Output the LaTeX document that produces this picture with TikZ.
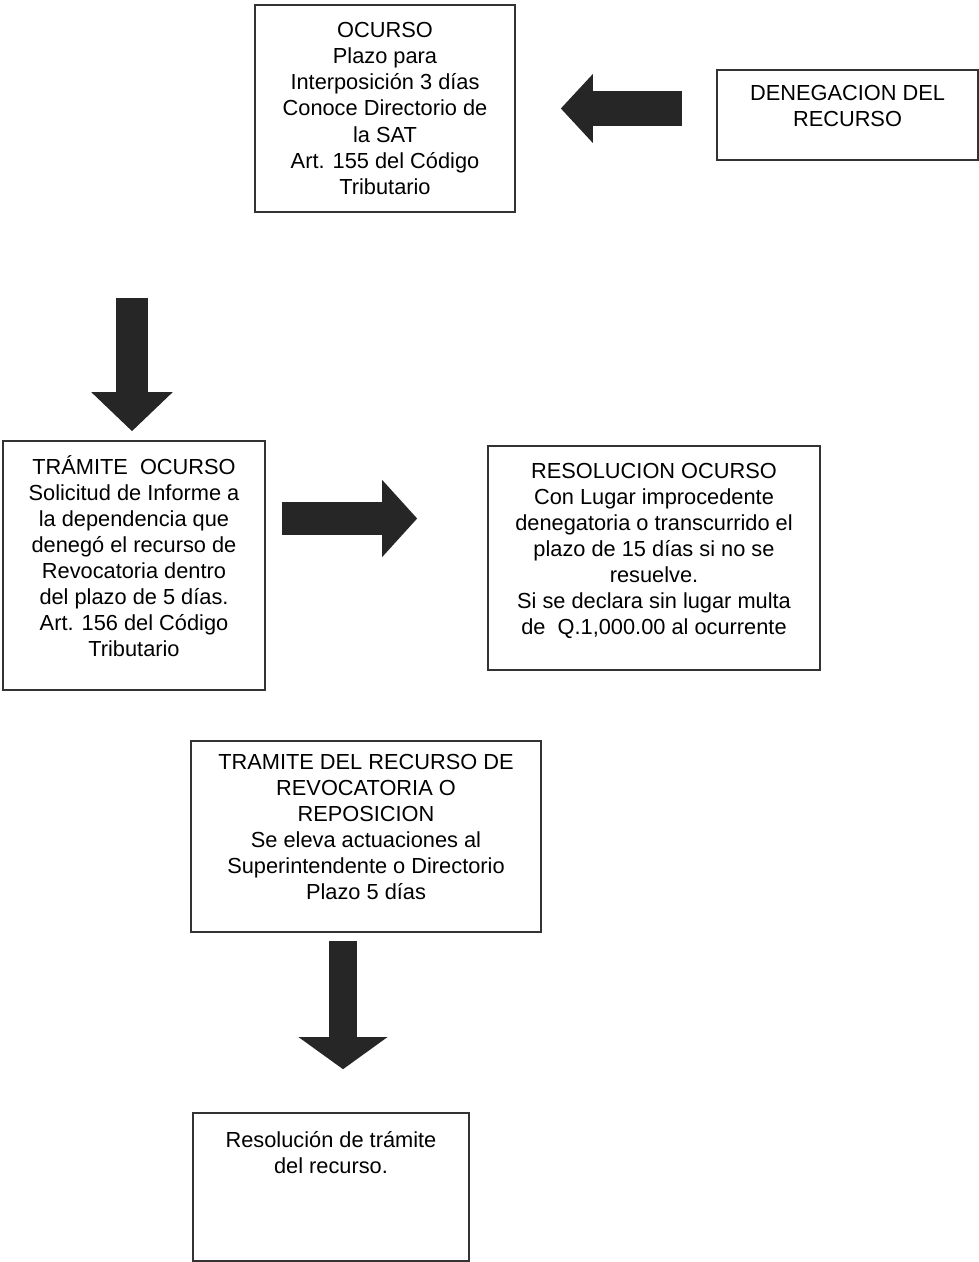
\documentclass[tikz,border=0pt]{standalone}
\usepackage{fontspec}
\setmainfont{Liberation Sans}
\usetikzlibrary{arrows.meta, positioning, calc}

\begin{document}
\begin{tikzpicture}[
    box/.style={rectangle, draw=black!80, line width=0.9pt, align=center, inner sep=2pt, font=\fontsize{12.4}{14.8}\selectfont},
    lifted/.style={execute at end node={\rule[-0.38cm]{0pt}{0pt}}},
    blockarrow/.style={draw=black!85, line width=0.66cm, -{Triangle[length=0.7cm, width=1.5cm]}}
]
    \useasboundingbox (0,0) rectangle (19.58,-25.24);

    \node[box, minimum width=5.2cm, minimum height=4.14cm] (ocurso) at (7.7,-2.17) {OCURSO\\Plazo para\\Interposición 3 días\\Conoce Directorio de\\la SAT\\Art. 155 del Código\\Tributario};
    \node[box, lifted, minimum width=5.22cm, minimum height=1.8cm] (denegacion) at (16.95,-2.3) {DENEGACION DEL\\RECURSO};
    \node[box, lifted, minimum width=5.24cm, minimum height=4.98cm] (tramite) at (2.68,-11.31) {TRÁMITE~ OCURSO\\Solicitud de Informe a\\la dependencia que\\denegó el recurso de\\Revocatoria dentro\\del plazo de 5 días.\\Art. 156 del Código\\Tributario};
    \node[box, lifted, minimum width=6.64cm, minimum height=4.48cm] (resolucion) at (13.08,-11.16) {RESOLUCION OCURSO\\Con Lugar improcedente\\denegatoria o transcurrido el\\plazo de 15 días si no se\\resuelve.\\Si se declara sin lugar multa\\de~ Q.1,000.00 al ocurrente};
    \node[box, lifted, minimum width=7cm, minimum height=3.82cm] (tramrec) at (7.32,-16.73) {TRAMITE DEL RECURSO DE\\REVOCATORIA O\\REPOSICION\\Se eleva actuaciones al\\Superintendente o Directorio\\Plazo 5 días};
    \node[box, minimum width=5.52cm, minimum height=2.96cm] (resfinal) at (6.62,-23.74) {};
    \node[box, draw=none, below=0.3cm of resfinal.north] (resfinaltxt) {Resolución de trámite\\del recurso.};

    \coordinate (startdown) at (2.64,-5.96);
    \coordinate (startright) at (5.64,-10.37);
    \coordinate (startlow) at ([xshift=-0.46cm]tramrec.south);

    \draw[blockarrow, line width=0.7cm, -{Triangle[length=0.64cm, width=1.34cm]}, shorten <=0.68cm, shorten >=0.9cm] (denegacion.west |- ocurso.east) -- (ocurso.east);
    \draw[blockarrow, line width=0.64cm, -{Triangle[length=0.78cm, width=1.58cm]}, shorten >=0.18cm] (startdown) -- (startdown |- tramite.north);
    \draw[blockarrow, shorten >=1.4cm] (startright) -- (startright -| resolucion.west);
    \draw[blockarrow, line width=0.56cm, -{Triangle[length=0.64cm, width=1.74cm]}, shorten <=0.16cm, shorten >=0.86cm] (startlow) -- (startlow |- resfinal.north);
\end{tikzpicture}
\end{document}
